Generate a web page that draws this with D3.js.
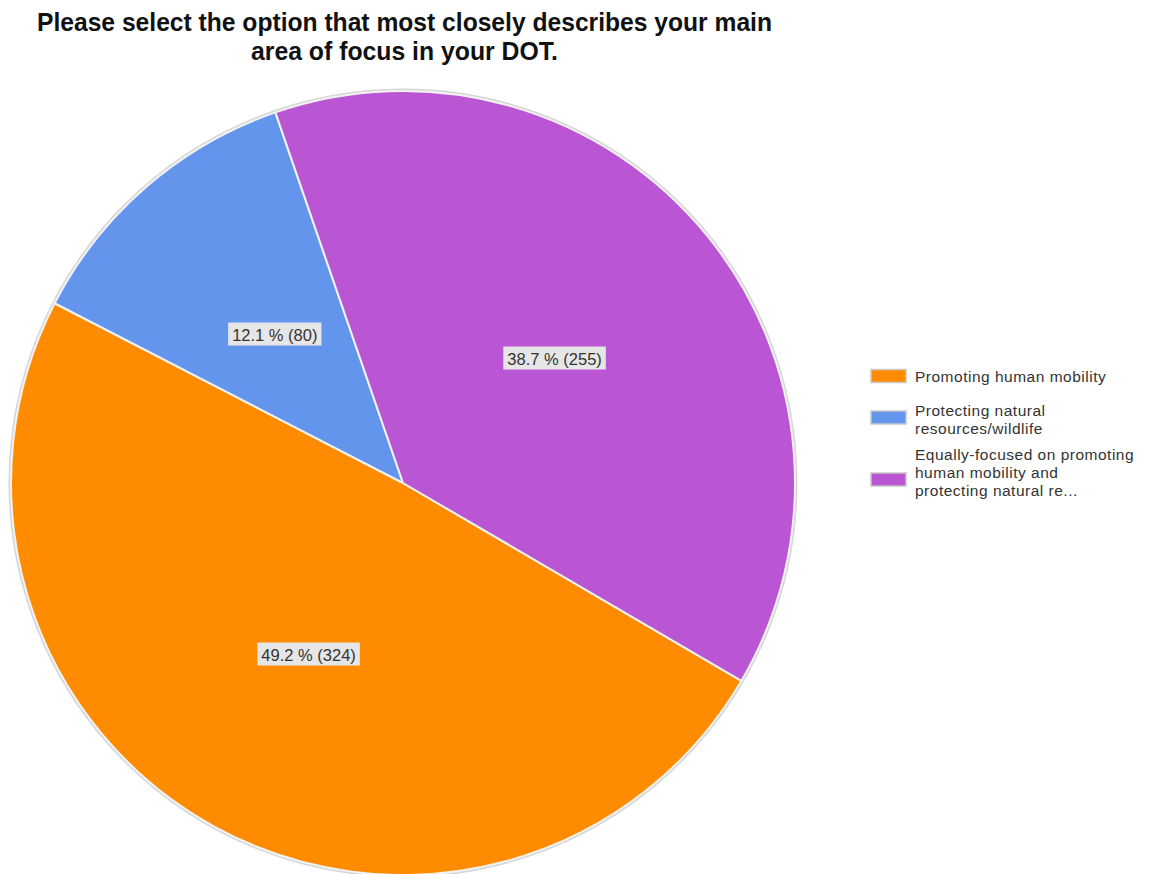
<!DOCTYPE html>
<html>
<head>
<meta charset="utf-8">
<script src="https://cdn.jsdelivr.net/npm/d3@7"></script>
<style>
  html, body { margin: 0; padding: 0; background: #fff; }
  svg { display: block; }
</style>
</head>
<body>
<svg id="chart" width="1149" height="874"></svg>
<script>
// Survey responses: main area of focus
const categories = [
  "Promoting human mobility",
  "Protecting natural resources/wildlife",
  "Equally-focused on promoting human mobility and protecting natural re..."
];
const counts = [324, 80, 255];
const percents = [49.2, 12.1, 38.7];
const colors = ["#FF8C00", "#6495ED", "#BA55D3"];
const legendLines = [
  ["Promoting human mobility"],
  ["Protecting natural", "resources/wildlife"],
  ["Equally-focused on promoting", "human mobility and", "protecting natural re..."]
];
const titleLines = [
  "Please select the option that most closely describes your main",
  "area of focus in your DOT."
];

const svg = d3.select("#chart");
const cx = 403, cy = 483, R = 392;

// Title (two centred bold lines)
const titleWidths = [735, 307];
svg.append("g")
  .selectAll("text")
  .data(titleLines)
  .join("text")
  .attr("x", 404.5)
  .attr("y", (d, i) => 31 + i * 29)
  .attr("text-anchor", "middle")
  .attr("font-family", "Liberation Sans, Arial, sans-serif")
  .attr("font-weight", "bold")
  .attr("font-size", 25)
  .attr("fill", "#111")
  .attr("textLength", (d, i) => titleWidths[i])
  .attr("lengthAdjust", "spacingAndGlyphs")
  .text(d => d);

// Pie
const startOffset = 120.3 * Math.PI / 180;
const pie = d3.pie().sort(null).value(d => d)
  .startAngle(startOffset).endAngle(startOffset + 2 * Math.PI);
const arcs = pie(counts);
const arc = d3.arc().innerRadius(0).outerRadius(R);
const labelArc = d3.arc().innerRadius(R * 0.5).outerRadius(R * 0.5);

const g = svg.append("g").attr("transform", `translate(${cx},${cy})`);

g.append("circle")
  .attr("r", R + 1)
  .attr("fill", "none")
  .attr("stroke", "#d6d6d6")
  .attr("stroke-width", 3);

g.selectAll("path.slice")
  .data(arcs)
  .join("path")
  .attr("class", "slice")
  .attr("d", arc)
  .attr("fill", (d, i) => colors[i])
  .attr("stroke", "#f2f2f2")
  .attr("stroke-width", 2)
  .attr("stroke-linejoin", "round");

// Value labels with boxed background
const labels = g.selectAll("g.lbl")
  .data(arcs)
  .join("g")
  .attr("class", "lbl")
  .attr("transform", d => `translate(${labelArc.centroid(d)})`);

labels.append("text")
  .attr("text-anchor", "middle")
  .attr("dy", "0.35em")
  .attr("font-family", "Liberation Sans, Arial, sans-serif")
  .attr("font-size", 16.5)
  .attr("fill", "#333")
  .text((d, i) => `${percents[i].toFixed(1)} % (${counts[i]})`)
  .each(function () {
    const b = this.getBBox();
    d3.select(this.parentNode).insert("rect", "text")
      .attr("x", b.x - 4)
      .attr("y", b.y - 3)
      .attr("width", b.width + 8)
      .attr("height", b.height + 5)
      .attr("fill", "#e6e6e6");
  });

// Legend
const legend = svg.append("g").attr("transform", "translate(871,0)");
const swatchCY = [376, 417.5, 479.5];
const baseY = [382, 416, 460];
const items = legend.selectAll("g.item")
  .data(categories)
  .join("g")
  .attr("class", "item");

items.append("rect")
  .attr("x", 0)
  .attr("y", (d, i) => swatchCY[i] - 6.5)
  .attr("width", 35)
  .attr("height", 13)
  .attr("fill", (d, i) => colors[i])
  .attr("stroke", "#c8c8c8")
  .attr("stroke-width", 1.5);

items.append("text")
  .attr("font-family", "Liberation Sans, Arial, sans-serif")
  .attr("font-size", 15.5)
  .attr("letter-spacing", 0.5)
  .attr("fill", "#333")
  .each(function (d, i) {
    d3.select(this).selectAll("tspan")
      .data(legendLines[i])
      .join("tspan")
      .attr("x", 44)
      .attr("y", (t, j) => baseY[i] + j * 17.8)
      .text(t => t);
  });
</script>
</body>
</html>
